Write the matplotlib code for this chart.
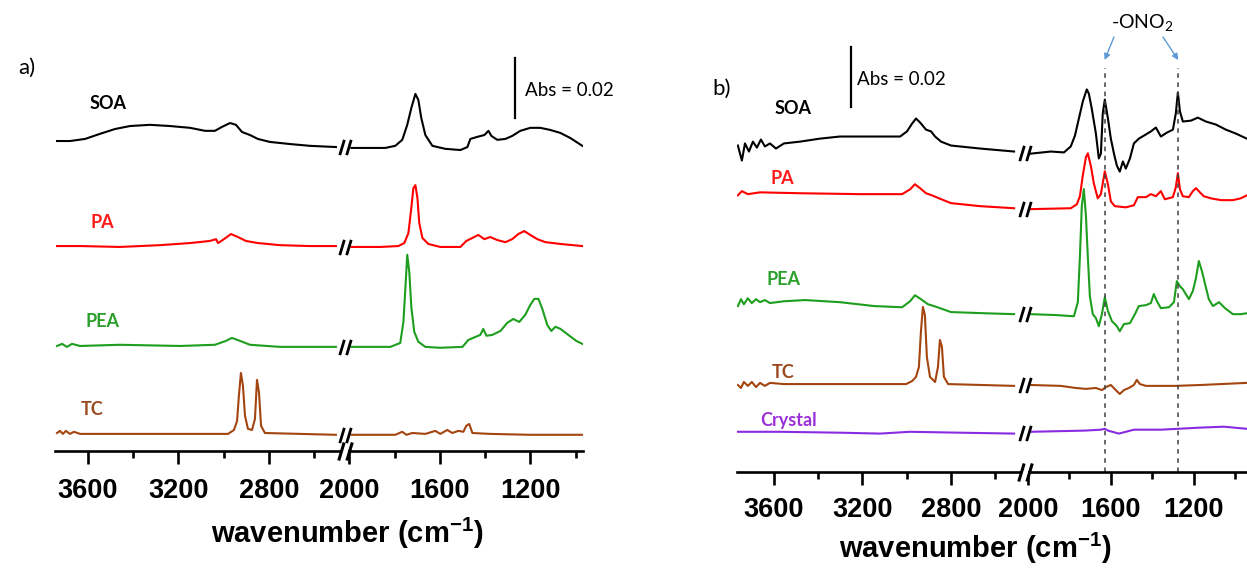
import numpy as np
import matplotlib
matplotlib.use("Agg")
import matplotlib.pyplot as plt
from matplotlib.path import Path

plt.rcParams['font.family'] = ['Lato', 'DejaVu Sans']

# ---- panel a) spectra: wavenumber (cm-1) and absorbance (mAbs, relative to own baseline)
soa_a_wn = [3737, 3680, 3613, 3547, 3481, 3414, 3326, 3238, 3149, 3083, 3039, 3008, 2972, 2946, 2919, 2884, 2849, 2796, 2707, 2619, 2504,
            1991, 1929, 1841, 1797, 1766, 1744, 1726, 1708, 1695, 1682, 1664, 1633, 1576, 1509, 1478, 1465, 1434, 1403, 1385, 1372,
            1346, 1310, 1280, 1244, 1200, 1156, 1112, 1067, 1023, 970]
soa_a_mabs = [2.3, 2.3, 3.0, 4.7, 6.3, 7.3, 7.7, 7.3, 6.7, 5.7, 5.7, 7.0, 8.3, 7.7, 5.3, 4.3, 3.0, 2.0, 1.3, 0.7, 0.3,
              0, 0, 0, 0.7, 2.7, 7.7, 13.3, 18.0, 16.0, 10.0, 4.3, 0.7, -0.3, -0.7, 0.3, 3.0, 3.7, 4.3, 5.7, 4.0,
              2.7, 3.0, 4.0, 5.7, 6.7, 6.7, 6.0, 5.0, 3.3, 0.7]

pa_a_wn = [3737, 3635, 3459, 3282, 3149, 3061, 3034, 3025, 2999, 2968, 2937, 2902, 2849, 2751, 2619, 2504,
           1991, 1863, 1783, 1757, 1739, 1726, 1717, 1708, 1699, 1691, 1677, 1651, 1598, 1509, 1483, 1456, 1430, 1403,
           1377, 1346, 1310, 1280, 1253, 1227, 1200, 1169, 1133, 1067, 970]
pa_a_mabs = [0, 0, -0.3, 0.3, 1.0, 1.7, 2.3, 1.0, 2.3, 4.0, 3.0, 1.7, 1.0, 0.3, 0, 0,
             -0.3, -0.3, 0, 1.0, 4.3, 12.7, 19.3, 20.3, 16.0, 7.7, 2.7, 0.7, -0.3, -0.3, 1.7, 2.7, 3.7, 2.3,
             3.0, 2.0, 1.3, 2.3, 4.0, 5.0, 3.7, 2.3, 1.3, 0.7, 0]

pea_a_wn = [3737, 3715, 3693, 3671, 3635, 3459, 3193, 3039, 2990, 2964, 2928, 2884, 2751, 2504,
            1991, 1819, 1775, 1761, 1752, 1744, 1735, 1726, 1713, 1695, 1664, 1598, 1500, 1474, 1443, 1421, 1408,
            1394, 1368, 1332, 1302, 1275, 1249, 1222, 1200, 1182, 1164, 1147, 1125, 1107, 1089, 1067, 1032, 997, 970]
pea_a_mabs = [0.3, 1.0, 0, 1.0, 0.3, 0.7, 0.3, 0.7, 2.0, 3.0, 2.0, 0.7, 0, 0,
              0, 0, 1.3, 8.3, 20.0, 30.7, 25.0, 13.3, 5.0, 1.7, 0, -0.3, 0, 2.3, 3.3, 4.0, 6.0,
              3.7, 4.0, 5.3, 8.0, 9.3, 8.3, 10.7, 14.0, 16.0, 16.0, 12.7, 7.3, 5.3, 6.7, 6.0, 4.0, 2.0, 1.0]

tc_a_wn = [3737, 3724, 3711, 3698, 3680, 3662, 3635, 3326, 2981, 2955, 2941, 2933, 2924, 2915, 2906, 2893, 2875,
           2862, 2853, 2844, 2835, 2818, 2663, 2504,
           1991, 1797, 1766, 1748, 1722, 1664, 1620, 1598, 1567, 1545, 1518, 1496, 1483, 1470, 1456, 1377, 1200, 970]
tc_a_mabs = [0.3, 1.0, 0, 1.0, 0, 0.7, 0, 0, 0, 1.3, 4.3, 12.7, 20.3, 16.0, 6.0, 1.7, 1.3,
             5.0, 18.0, 13.7, 2.7, 0.3, 0, -0.3,
             -0.3, -0.3, 0.7, -0.3, 0.3, 0, 1.0, 0, 1.3, 0.3, 1.0, 0.7, 2.7, 3.3, 0.3, 0, -0.3, -0.3]

# ---- panel b) spectra
soa_b_wn = [3763, 3745, 3731, 3713, 3695, 3677, 3659, 3641, 3618, 3591, 3555, 3482, 3392, 3302, 3166, 3030, 2999,
            2976, 2958, 2940, 2913, 2890, 2872, 2845, 2800, 2669, 2515,
            1986, 1889, 1826, 1793, 1773, 1754, 1735, 1716, 1706, 1692, 1672, 1658, 1648, 1639, 1629, 1614, 1600,
            1585, 1571, 1557, 1542, 1528, 1508, 1489, 1465, 1431, 1407, 1383, 1359, 1330, 1301, 1287, 1277, 1267,
            1253, 1214, 1181, 1142, 1094, 1046, 998, 945]
soa_b_mabs = [2.0, -3.0, 2.7, 0, 3.3, 1.3, 4.0, 1.7, 2.7, 1.0, 2.7, 3.3, 4.3, 5.0, 5.0, 5.0, 6.7,
              9.3, 11.0, 9.7, 7.3, 6.7, 5.0, 3.3, 2.0, 1.0, 0,
              -0.7, 0, -0.3, 1.7, 5.3, 11.0, 16.7, 20.7, 19.3, 14.3, 6.0, -2.3, -0.7, 12.7, 17.3, 11.0, 4.3,
              -0.7, -4.7, -6.7, -3.3, -5.7, -2.3, 2.7, 4.3, 5.7, 6.7, 8.0, 5.0, 6.3, 7.3, 12.7, 19.7, 13.3,
              10.0, 10.3, 11.3, 10.0, 9.0, 7.3, 6.0, 4.3]

pa_b_wn = [3763, 3745, 3718, 3663, 3482, 3211, 3021, 2985, 2963, 2940, 2913, 2886, 2854, 2800, 2669, 2515,
           1986, 1793, 1764, 1749, 1735, 1720, 1711, 1696, 1682, 1663, 1648, 1629, 1614, 1600, 1581, 1528, 1489,
           1470, 1431, 1407, 1383, 1359, 1340, 1301, 1287, 1277, 1267, 1253, 1224, 1205, 1190, 1171, 1152, 1118,
           1070, 1012, 974, 945]
pa_b_mabs = [4.3, 5.7, 4.7, 5.3, 5.0, 4.7, 4.7, 6.3, 8.0, 6.7, 5.0, 4.3, 3.3, 1.7, 0.7, 0,
             -0.3, 0, 1.3, 4.0, 11.0, 17.0, 18.3, 14.0, 8.3, 3.3, 4.7, 12.3, 8.0, 2.3, 0.7, 0.3, 1.0,
             3.7, 3.7, 4.7, 4.0, 5.7, 3.0, 3.7, 7.0, 11.7, 6.3, 4.0, 3.7, 5.7, 6.7, 5.3, 4.0, 3.3,
             2.7, 2.7, 3.3, 4.3]

pea_b_wn = [3763, 3749, 3736, 3718, 3700, 3681, 3663, 3641, 3618, 3555, 3460, 3302, 3148, 3021, 2985, 2963, 2936,
            2904, 2877, 2850, 2800, 2646, 2515,
            1986, 1865, 1778, 1759, 1749, 1740, 1730, 1720, 1711, 1701, 1687, 1672, 1658, 1643, 1629, 1614, 1595,
            1571, 1557, 1537, 1508, 1484, 1465, 1431, 1407, 1393, 1378, 1359, 1320, 1296, 1282, 1267, 1253, 1224,
            1205, 1190, 1176, 1161, 1147, 1128, 1108, 1079, 1050, 1012, 974, 945]
pea_b_mabs = [2.7, 5.0, 3.3, 5.3, 3.7, 5.0, 4.0, 4.7, 3.7, 4.3, 4.7, 4.0, 2.7, 2.3, 4.3, 6.3, 5.0,
              3.3, 2.7, 2.0, 0.7, 0.3, 0,
              0, -0.3, -0.7, 4.0, 19.3, 36.0, 41.7, 32.7, 19.3, 6.0, 0, -1.3, -4.0, 0, 5.7, 1.0, -2.3,
              -4.0, -5.7, -3.3, -3.0, 0, 2.7, 3.0, 3.7, 6.7, 4.3, 2.0, 2.3, 4.0, 11.0, 9.3, 8.3, 5.0,
              7.7, 12.0, 17.7, 14.3, 10.3, 5.0, 2.7, 4.0, 2.0, 0, 0, 0.3]

tc_b_wn = [3763, 3749, 3736, 3718, 3700, 3681, 3663, 3641, 3618, 3555, 3256, 3003, 2976, 2958, 2945, 2936, 2927,
           2918, 2909, 2895, 2872, 2859, 2850, 2841, 2832, 2813, 2515,
           1986, 1841, 1769, 1720, 1672, 1643, 1624, 1600, 1576, 1557, 1537, 1513, 1489, 1475, 1460, 1431, 1287,
           1166, 945]
tc_b_mabs = [0, -1.0, 1.0, -0.3, 1.0, -0.7, 0.7, -0.3, 0.7, 0.3, 0.3, 0.3, 1.3, 2.7, 6.0, 17.7, 26.0,
             23.3, 9.3, 2.7, 1.0, 6.0, 15.0, 12.7, 2.7, 0.3, -0.3,
             0, -0.3, -1.0, -1.3, -1.0, -1.7, -0.7, 0, -1.7, -3.0, -1.7, -1.0, 0, 1.7, 0.3, -0.3, -0.3,
             0, 0.7]

crystal_b_wn = [3763, 3573, 3302, 3121, 2985, 2759, 2515, 1986, 1725, 1648, 1629, 1614, 1561, 1489, 1359, 1277,
                1166, 1056, 945]
crystal_b_mabs = [0.3, 0.3, 0, -0.3, 0.3, 0, -0.3, 0.3, 0.7, 1.0, 1.3, 0.7, -0.3, 1.0, 1.0, 1.3, 1.7, 2.0, 1.3]

# stacking offsets (mAbs)
offsets_a = [101.0, 68.3, 34.7, 5.7]
offsets_b = [106.8, 87.9, 52.6, 29.0, 13.1]

names_a = ['SOA', 'PA', 'PEA', 'TC']
names_b = ['SOA', 'PA', 'PEA', 'TC', 'Crystal']
line_colors = {'SOA': 'black', 'PA': '#ff0000', 'PEA': '#1e9e1e', 'TC': '#a4450f', 'Crystal': '#8a2be2'}
label_colors = {'SOA': 'black', 'PA': '#ff1a1a', 'PEA': '#2ba02b', 'TC': '#9a4a1e', 'Crystal': '#9b30d9'}

major_ticks = [3600, 3200, 2800, 2000, 1600, 1200]
minor_ticks = [3400, 3000, 2600, 1800, 1400, 1000]
ono2_bands = [1630, 1275]
abs_bar = 0.02

BRK_HI = 2480   # upper end of the cut-out region
BRK_MID = 2240


def broken_scale(gap, sl, sr, b=BRK_HI):
    u1 = 2000 * sr
    u2 = u1 + gap

    def fwd(x):
        x = np.asarray(x, float)
        return np.where(x <= 2000, x * sr,
                        np.where(x < b, u1 + (x - 2000) / (b - 2000) * gap, u2 + (x - b) * sl))

    def inv(u):
        u = np.asarray(u, float)
        return np.where(u <= u1, u / sr,
                        np.where(u < u2, 2000 + (u - u1) / gap * (b - 2000), b + (u - u2) / sl))
    return fwd, inv


# "//" break symbol
brk = Path([(-0.75, -1), (-0.15, 1), (0.15, -1), (0.75, 1)],
           [Path.MOVETO, Path.LINETO, Path.MOVETO, Path.LINETO])


def draw_trace(ax, wn, mabs, offset, color):
    wn = np.array(wn)
    y = (np.array(mabs) + offset) / 1000
    hi = wn > BRK_MID
    ax.plot(wn[hi], y[hi], color=color, lw=1.5)
    ax.plot(wn[~hi], y[~hi], color=color, lw=1.5)
    yb = (y[hi][-1] + y[~hi][0]) / 2
    ax.plot([BRK_MID], [yb], marker=brk, ms=11, mew=2.0, color='black', zorder=5)


def setup_axis(ax, xlim, ytop, pad):
    ax.set_xlim(*xlim)
    ax.set_ylim(0, ytop)
    for s in ['top', 'left', 'right']:
        ax.spines[s].set_visible(False)
    ax.spines['bottom'].set_linewidth(1.9)
    ax.set_yticks([])
    ax.set_xticks(major_ticks, [str(t) for t in major_ticks], fontweight='bold',
                  family='Liberation Sans', fontsize=19.5)
    ax.set_xticks(minor_ticks, minor=True)
    ax.xaxis.set_minor_formatter(matplotlib.ticker.NullFormatter())
    ax.tick_params(axis='x', which='major', direction='out', length=9.7, width=1.9, pad=pad)
    ax.tick_params(axis='x', which='minor', direction='out', length=5.2, width=1.9)
    ax.plot([BRK_MID], [0], marker='s', ms=5, color='white', mew=0, clip_on=False, zorder=4)
    ax.plot([BRK_MID], [0], marker=brk, ms=13, mew=2.2, color='black', clip_on=False, zorder=5)


W, H = 1247, 573
fig = plt.figure(figsize=(W / 100, H / 100), dpi=100)

# ---- panel a
ax1 = fig.add_axes([55 / W, 122 / H, 528 / W, 451 / H])
ax1.set_xscale('function', functions=broken_scale(8, 90.5 / 400, 90.5 / 400))
setup_axis(ax1, (3746, 967), 0.1503, 10)
data_a = [(soa_a_wn, soa_a_mabs), (pa_a_wn, pa_a_mabs), (pea_a_wn, pea_a_mabs), (tc_a_wn, tc_a_mabs)]
for name, (wn, ma), off in zip(names_a, data_a, offsets_a):
    draw_trace(ax1, wn, ma, off, line_colors[name])
label_pos_a = {'SOA': (3512, 0.1157), 'PA': (3538, 0.0763), 'PEA': (3534, 0.0430), 'TC': (3582, 0.0137)}
for name in names_a:
    ax1.text(*label_pos_a[name], name, color=label_colors[name], fontweight='bold', fontsize=13,
             ha='center', va='center')
ax1.plot([1266, 1266], [0.111, 0.111 + abs_bar], color='black', lw=1.6)
ax1.text(1222, 0.1203, 'Abs = 0.02', fontsize=13.5, ha='left', va='center')

# ---- panel b
ax2 = fig.add_axes([737 / W, 101 / H, 510 / W, 472 / H])
ax2.set_xscale('function', functions=broken_scale(6, 88.5 / 400, 83 / 400))
setup_axis(ax2, (3767, 944), 0.1573, 8.5)
data_b = [(soa_b_wn, soa_b_mabs), (pa_b_wn, pa_b_mabs), (pea_b_wn, pea_b_mabs), (tc_b_wn, tc_b_mabs),
          (crystal_b_wn, crystal_b_mabs)]
for name, (wn, ma), off in zip(names_b, data_b, offsets_b):
    draw_trace(ax2, wn, ma, off, line_colors[name])
label_pos_b = {'SOA': (3514, 0.121), 'PA': (3564, 0.0977), 'PEA': (3559, 0.0643), 'TC': (3559, 0.0333),
               'Crystal': (3532, 0.0170)}
for name in names_b:
    ax2.text(*label_pos_b[name], name, color=label_colors[name], fontweight='bold', fontsize=13,
             ha='center', va='center')
ax2.plot([3252, 3252], [0.1217, 0.1217 + abs_bar], color='black', lw=1.6)
ax2.text(3225, 0.1307, 'Abs = 0.02', fontsize=13.5, ha='left', va='center')

ax2.vlines(ono2_bands, 0, 0.1347, colors='#404040', linestyles=(0, (3, 3)), lw=1.1)
fig.text(1142 / W, 1 - 23 / H, r'-ONO$_\mathregular{2}$', fontsize=14, ha='center', va='center')
arrow_tails = [(1114, H - 37), (1163, H - 37)]
for band, tail in zip(ono2_bands, arrow_tails):
    ax2.annotate('', xy=(band, 0.1373), xytext=tail, textcoords='figure pixels', annotation_clip=False,
                 arrowprops=dict(arrowstyle='-|>', color='#5b9bd5', lw=1.0, mutation_scale=9,
                                 shrinkA=0, shrinkB=0))

# panel letters and axis titles
fig.text(27 / W, 1 - 68 / H, 'a)', fontsize=16, ha='center', va='center')
fig.text(722 / W, 1 - 89 / H, 'b)', fontsize=16, ha='center', va='center')
xlab = r'wavenumber (cm$^{\mathregular{-1}}$)'
fig.text(347 / W, (H - 543) / H, xlab, fontsize=21, fontweight='bold', family='Liberation Sans',
         ha='center', va='baseline')
fig.text(975 / W, (H - 558) / H, xlab, fontsize=21, fontweight='bold', family='Liberation Sans',
         ha='center', va='baseline')

fig.savefig('out.png', dpi=100)
